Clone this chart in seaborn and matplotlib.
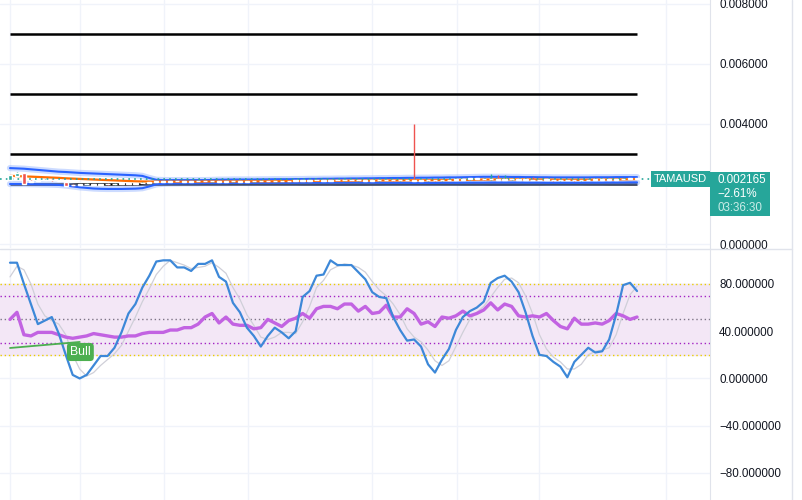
import matplotlib
matplotlib.use("Agg")
import matplotlib.pyplot as plt
import seaborn as sns
import numpy as np
from matplotlib.ticker import FuncFormatter
from matplotlib.lines import Line2D
from matplotlib.patches import Rectangle

# ---- price panel data (values in 1e-6 AUD) ----
opens = [2130, 2270, 2370, 2110, 2100, 2130, 2150, 2120, 2070, 1980,
         1970, 1990, 2000, 1980, 2010, 1990, 2000, 2020, 2010, 2030,
         2050, 2070, 2090, 2080, 2100, 2090, 2080, 2100, 2110, 2090,
         2100, 2080, 2090, 2100, 2080, 2090, 2100, 2110, 2090, 2100,
         2110, 2100, 2120, 2110, 2130, 2120, 2110, 2130, 2120, 2140,
         2120, 2130, 2110, 2120, 2140, 2130, 2120, 2140, 2130, 2110,
         2120, 2140, 2120, 2130, 2150, 2140, 2160, 2190, 2170, 2160,
         2180, 2150, 2160, 2170, 2140, 2150, 2130, 2150, 2140, 2120,
         2130, 2140, 2120, 2130, 2150, 2140, 2160, 2150, 2170, 2180, 2190]
closes = [2300, 2370, 2000, 2080, 2130, 2150, 2120, 2100, 1930, 1960,
          1990, 2010, 1980, 2000, 1990, 2010, 2020, 2000, 2030, 2050,
          2060, 2090, 2080, 2100, 2090, 2080, 2100, 2110, 2090, 2100,
          2080, 2090, 2100, 2080, 2090, 2100, 2110, 2090, 2100, 2110,
          2100, 2120, 2110, 2130, 2120, 2110, 2130, 2120, 2140, 2120,
          2130, 2110, 2120, 2140, 2130, 2120, 2140, 2130, 2110, 2120,
          2140, 2120, 2130, 2150, 2140, 2160, 2190, 2170, 2160, 2180,
          2150, 2160, 2170, 2140, 2150, 2130, 2150, 2140, 2120, 2130,
          2140, 2120, 2130, 2150, 2140, 2160, 2150, 2170, 2180, 2190, 2165]
highs = [2310, 2390, 2380, 2120, 2140, 2160, 2160, 2130, 2080, 1990,
         2000, 2020, 2010, 2010, 2020, 2020, 2030, 2030, 2040, 2060,
         2070, 2100, 2100, 2110, 2110, 2100, 2110, 2120, 2120, 2110,
         2110, 2100, 2110, 2110, 2100, 2110, 2120, 2120, 2110, 2120,
         2120, 2130, 2130, 2140, 2140, 2130, 2140, 2140, 2150, 2150,
         2140, 2140, 2130, 2150, 2150, 2140, 2150, 2150, 4000, 2130,
         2150, 2150, 2140, 2160, 2160, 2170, 2200, 2200, 2180, 2330,
         2300, 2310, 2180, 2180, 2160, 2220, 2160, 2160, 2150, 2140,
         2150, 2150, 2140, 2160, 2160, 2170, 2170, 2180, 2190, 2200, 2200]
lows = [2120, 2260, 1990, 2070, 2090, 2120, 2110, 2090, 1920, 1950,
        1960, 1980, 1970, 1970, 1980, 1980, 1990, 1990, 2000, 2020,
        2040, 2060, 2070, 2070, 2080, 2070, 2070, 2090, 2080, 2080,
        2070, 2070, 2080, 2070, 2070, 2080, 2090, 2080, 2080, 2090,
        2090, 2090, 2100, 2100, 2110, 2100, 2100, 2110, 2110, 2110,
        2110, 2100, 2100, 2110, 2120, 2110, 2110, 2120, 2100, 2100,
        2110, 2110, 2110, 2120, 2130, 2130, 2150, 2160, 2150, 2150,
        2140, 2140, 2150, 2130, 2130, 2120, 2120, 2130, 2110, 2110,
        2120, 2110, 2110, 2120, 2130, 2130, 2140, 2140, 2160, 2170, 2155]
ma_line = [2270, 2265, 2255, 2245, 2235, 2225, 2215, 2205, 2190, 2180,
           2170, 2160, 2150, 2140, 2130, 2120, 2110, 2100, 2090, 2085,
           2080, 2080, 2080, 2080, 2080, 2080, 2080, 2080, 2085, 2085,
           2085, 2085, 2085, 2085, 2090, 2090, 2090, 2090, 2090, 2095,
           2095, 2100, 2100, 2100, 2105, 2105, 2110, 2110, 2110, 2115,
           2115, 2115, 2115, 2120, 2120, 2120, 2120, 2125, 2125, 2125,
           2125, 2130, 2130, 2130, 2135, 2135, 2140, 2145, 2150, 2150,
           2155, 2155, 2155, 2155, 2150, 2150, 2150, 2145, 2145, 2140,
           2140, 2140, 2140, 2140, 2145, 2145, 2150, 2150, 2155, 2160, 2165]
band_upper = [2530, 2520, 2510, 2490, 2470, 2450, 2430, 2410, 2400, 2385,
              2370, 2360, 2350, 2340, 2330, 2320, 2310, 2300, 2290, 2270,
              2200, 2140, 2130, 2130, 2130, 2130, 2130, 2130, 2130, 2135,
              2145, 2145, 2150, 2150, 2150, 2150, 2155, 2155, 2160, 2160,
              2160, 2165, 2165, 2170, 2170, 2175, 2175, 2180, 2180, 2185,
              2185, 2190, 2190, 2195, 2195, 2200, 2200, 2205, 2205, 2210,
              2210, 2215, 2215, 2220, 2220, 2225, 2230, 2235, 2240, 2240,
              2240, 2240, 2235, 2235, 2230, 2230, 2225, 2225, 2220, 2220,
              2220, 2220, 2220, 2220, 2225, 2225, 2225, 2230, 2230, 2230, 2230]
band_lower = [2000, 2000, 2000, 1995, 1990, 1985, 1980, 1970, 1950, 1920,
              1890, 1870, 1850, 1840, 1835, 1835, 1835, 1840, 1845, 1860,
              1920, 1990, 2010, 2020, 2020, 2025, 2025, 2025, 2030, 2030,
              2030, 2030, 2035, 2035, 2035, 2035, 2040, 2040, 2040, 2040,
              2040, 2040, 2045, 2045, 2045, 2045, 2045, 2050, 2050, 2050,
              2050, 2050, 2045, 2045, 2040, 2040, 2040, 2040, 2035, 2035,
              2035, 2035, 2040, 2040, 2040, 2045, 2045, 2045, 2045, 2050,
              2050, 2050, 2050, 2050, 2045, 2045, 2045, 2040, 2040, 2040,
              2040, 2040, 2040, 2045, 2045, 2045, 2050, 2050, 2050, 2055, 2055]
levels = [0.007, 0.005, 0.003, 0.002]
price_ticks = [0, 0.004, 0.006, 0.008]   # 0.002000 sits under the price box

# ---- oscillator panel data ----
stoch_k = [98, 98, 80, 63, 46, 49, 52, 38, 20, 3,
           0, 3, 11, 19, 19, 26, 39, 55, 63, 77,
           87, 99, 100, 100, 94, 94, 91, 97, 97, 100,
           86, 82, 64, 56, 43, 36, 27, 36, 43, 39,
           34, 40, 69, 74, 87, 88, 100, 96, 96, 96,
           90, 84, 73, 69, 68, 52, 41, 32, 33, 27,
           12, 5, 16, 25, 41, 52, 57, 60, 65, 81,
           85, 87, 82, 73, 56, 36, 20, 19, 14, 10,
           1, 14, 20, 26, 22, 23, 33, 54, 79, 81, 74]
stoch_d = [86, 95, 92, 80, 63, 53, 49, 46, 37, 20,
           8, 2, 5, 11, 16, 21, 28, 40, 52, 65,
           76, 88, 95, 100, 98, 96, 93, 94, 95, 98,
           94, 89, 77, 67, 54, 45, 35, 33, 35, 39,
           39, 38, 48, 61, 77, 83, 92, 95, 97, 96,
           94, 90, 82, 75, 70, 63, 54, 42, 35, 31,
           24, 15, 11, 15, 27, 39, 50, 56, 61, 69,
           77, 84, 85, 81, 70, 55, 37, 25, 18, 14,
           8, 8, 12, 20, 23, 24, 26, 37, 55, 71, 78]
rsi = [50, 56, 37, 36, 39, 39, 39, 37, 35, 34,
       35, 36, 38, 37, 36, 35, 35, 36, 36, 38,
       39, 39, 39, 41, 41, 43, 43, 46, 52, 55,
       47, 52, 46, 45, 45, 42, 43, 50, 47, 44,
       49, 51, 55, 51, 59, 61, 61, 59, 63, 63,
       57, 61, 55, 56, 62, 52, 52, 59, 55, 46,
       48, 44, 52, 51, 53, 57, 53, 55, 58, 64,
       58, 63, 61, 53, 52, 53, 52, 55, 49, 44,
       42, 51, 46, 46, 47, 46, 49, 55, 53, 50, 52]
bull_x = [0, 10]
bull_y = [25.8, 30.9]
rsi_bands = {80: "#e8cf00", 20: "#e8cf00", 70: "#a323c4", 30: "#a323c4", 50: "#7d7486"}

# vertical grid (date boundaries) in bar-index units
vgrid = [0, 10.05, 22.1, 34.2, 51.96, 64.2, 75.9, 94.2]

sns.set_style("white")
plt.rcParams["font.family"] = ["Liberation Sans", "DejaVu Sans"]

W, H = 802, 500
px = 6.967  # pixels per bar
fig = plt.figure(figsize=(W / 100, H / 100), dpi=100)
ax1 = fig.add_axes([0, 252 / H, 710 / W, 248 / H])
ax2 = fig.add_axes([0, 0, 710 / W, 251 / H])

idx = np.arange(len(closes))
o = np.array(opens) / 1e6
c = np.array(closes) / 1e6
hi = np.array(highs) / 1e6
lo = np.array(lows) / 1e6
up = c >= o
col = np.where(up, "#26a69a", "#ef5350")

grid_c = "#f0f3fa"
for ax in (ax1, ax2):
    ax.set_xlim(-10 / px, 700 / px)
    for v in vgrid:
        ax.axvline(v, color=grid_c, lw=1, zorder=0)
    for s in ["top", "left", "bottom"]:
        ax.spines[s].set_visible(False)
    ax.spines["right"].set_color("#e0e3eb")
    ax.set_xticks([])
    ax.yaxis.tick_right()
    ax.tick_params(axis="y", length=0, pad=6.5, labelsize=8.4, labelcolor="#131722")
    ax.yaxis.grid(True, color=grid_c, lw=1)
    ax.set_axisbelow(True)

# ---- top panel ----
ax1.set_ylim(-0.000133, 0.008133)
ax1.set_yticks(price_ticks)
ax1.yaxis.set_major_formatter(FuncFormatter(lambda v, p: f"{v:.6f}"))

ax1.hlines(levels, 0, idx[-1], color="black", lw=1.8, zorder=3)
sns.lineplot(x=idx, y=np.array(band_upper) / 1e6, ax=ax1, color="#8fb0ff", lw=4.5, alpha=0.45, zorder=3)
sns.lineplot(x=idx, y=np.array(band_lower) / 1e6, ax=ax1, color="#8fb0ff", lw=4.5, alpha=0.45, zorder=3)
sns.lineplot(x=idx, y=np.array(band_upper) / 1e6, ax=ax1, color="#2962ff", lw=1.5, zorder=4)
sns.lineplot(x=idx, y=np.array(band_lower) / 1e6, ax=ax1, color="#2962ff", lw=1.5, zorder=4)
sns.lineplot(x=idx, y=np.array(ma_line) / 1e6, ax=ax1, color="#ff6d00", lw=1.6, zorder=5)
ax1.vlines(idx, lo, hi, color=col, lw=1, zorder=6)
ax1.bar(idx, np.maximum(np.abs(c - o), 0.000012), bottom=np.minimum(o, c), width=0.62,
        color=col, zorder=6)
last = c[-1]
ax1.axhline(last, color="#26a69a", lw=1.2, ls=(0, (1, 2.5)), zorder=5)

ax1.text((680.5 - 10) / px, last, "TAMAUSD", ha="center", va="center", fontsize=8,
         color="white", zorder=10,
         bbox=dict(boxstyle="square,pad=0.3", fc="#26a69a", ec="none"))

# price box in the scale area
fig.add_artist(Rectangle((710 / W, (H - 216) / H), 60 / W, 44 / H,
                         transform=fig.transFigure, fc="#26a69a", ec="none", zorder=10))
fig.text(717 / W, (H - 180) / H, "0.002165", color="white", fontsize=8.4, va="center", zorder=11)
fig.text(717 / W, (H - 194) / H, "\u22122.61%", color="white", fontsize=8.4, va="center", zorder=11)
fig.text(717 / W, (H - 208) / H, "03:36:30", color="#c9ece7", fontsize=8.4, va="center", zorder=11)

# ---- bottom panel ----
ax2.set_ylim(-102.9, 109.6)
ax2.set_yticks([80, 40, 0, -40, -80])
ax2.yaxis.set_major_formatter(FuncFormatter(lambda v, p: f"{v:.6f}".replace("-", "\u2212")))
ax2.axhspan(20, 80, color="#f3e7f6", zorder=1)
for lv, lc in rsi_bands.items():
    ax2.axhline(lv, color=lc, lw=1, ls=(0, (1, 2)), zorder=2)

sns.lineplot(x=idx, y=stoch_d, ax=ax2, color="#cfcfd8", lw=0.9, zorder=3)
sns.lineplot(x=idx, y=rsi, ax=ax2, color="#c263e2", lw=2.4, zorder=4)
sns.lineplot(x=idx, y=stoch_k, ax=ax2, color="#3d88d8", lw=1.6, zorder=5)
sns.lineplot(x=bull_x, y=bull_y, ax=ax2, color="#4caf50", lw=1.3, zorder=6)
ax2.text(10.1, 22.4, "Bull", ha="center", va="center", fontsize=8.8, color="white", zorder=7,
         bbox=dict(boxstyle="round,pad=0.25,rounding_size=0.3", fc="#4caf50", ec="none"))

# separators
fig.add_artist(Line2D([0, 792 / W], [(H - 248.5) / H] * 2, color="#e0e3eb", lw=1,
                      transform=fig.transFigure))
fig.add_artist(Line2D([792 / W] * 2, [0, 1], color="#e0e3eb", lw=1, transform=fig.transFigure))

fig.savefig("out.png", dpi=100)
